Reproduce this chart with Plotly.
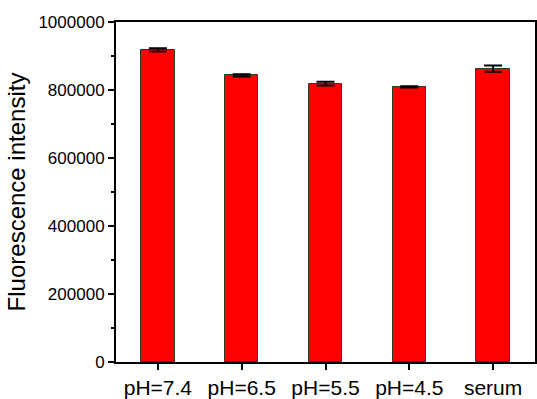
import plotly.graph_objects as go

# Fluorescence intensity under different conditions
categories = ["pH=7.4", "pH=6.5", "pH=5.5", "pH=4.5", "serum"]
intensity = [918000, 843000, 819000, 809000, 863000]
intensity_err = [5000, 3500, 5500, 2000, 9000]

y_tickvals = [0, 200000, 400000, 600000, 800000, 1000000]
y_ticktext = ["0", "200000", "400000", "600000", "800000", "1000000"]

FONT = "Liberation Sans, Arial, sans-serif"

fig = go.Figure()
fig.add_trace(go.Bar(
    x=list(range(len(categories))),
    y=intensity,
    width=0.4,
    marker=dict(color="#ff0000", line=dict(color="#333333", width=1)),
    error_y=dict(type="data", array=intensity_err, visible=True,
                 color="#000000", thickness=2, width=9),
))

fig.update_layout(
    width=537, height=399,
    margin=dict(l=116, r=0, t=22, b=37),
    paper_bgcolor="white", plot_bgcolor="white",
    showlegend=False,
    bargap=0,
    font=dict(family=FONT, color="#000000"),
)
fig.update_xaxes(
    range=[-0.5, 4.5],
    tickvals=list(range(len(categories))),
    ticktext=categories,
    tickfont=dict(size=21, family=FONT),
    ticks="outside", ticklen=6, tickwidth=1.5, tickcolor="#000000",
    showline=True, linecolor="#000000", linewidth=2, mirror=True,
    showgrid=False, zeroline=False,
)
fig.update_yaxes(
    range=[0, 1000000],
    tickvals=y_tickvals,
    ticktext=y_ticktext,
    tickfont=dict(size=17, family=FONT),
    ticks="outside", ticklen=6, tickwidth=1.5, tickcolor="#000000",
    minor=dict(dtick=100000, ticks="outside", ticklen=3, tickwidth=1.5, tickcolor="#000000"),
    showline=True, linecolor="#000000", linewidth=2, mirror=True,
    showgrid=False, zeroline=False,
    title=dict(text="Fluorescence intensity", font=dict(size=24, family=FONT), standoff=6),
)

fig.write_html("out.html")
